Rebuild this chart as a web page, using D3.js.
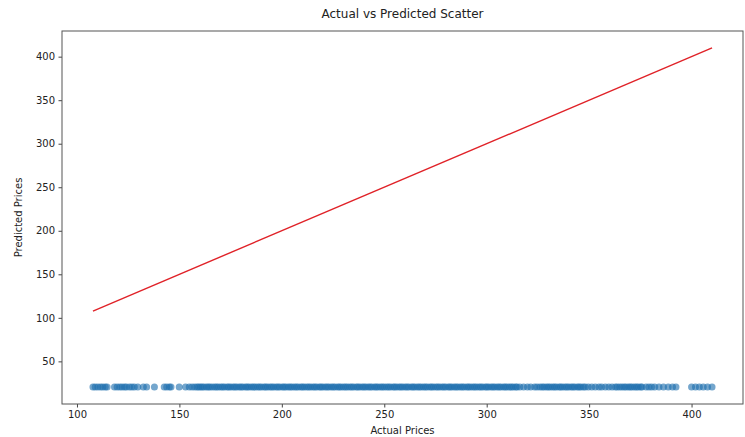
<!DOCTYPE html>
<html>
<head>
<meta charset="utf-8">
<script src="https://cdn.jsdelivr.net/npm/d3@7"></script>
<style>
  html, body { margin: 0; padding: 0; background: #fff; }
  svg { display: block; font-family: "DejaVu Sans", sans-serif; }
</style>
</head>
<body>
<svg id="chart" width="745" height="437"></svg>
<script>
// ---- data ----
const title = "Actual vs Predicted Scatter";
const xLabel = "Actual Prices";
const yLabel = "Predicted Prices";
const xTicks = [100, 150, 200, 250, 300, 350, 400];
const yTicks = [50, 100, 150, 200, 250, 300, 350, 400];

const actualLow = [107.8, 108.9, 110.2, 111.5, 112.6, 113.8, 114.7, 118.3, 119.6, 120.9, 122.0, 123.2,
  124.1, 125.6, 126.8, 128.0, 129.7, 132.4, 134.0, 137.8, 142.6, 143.8, 145.1, 145.9, 149.9, 153.0,
  154.8, 156.2, 157.5, 158.6, 159.4];
const actualMid = [160.3, 161.1, 162.0, 163.2, 164.1, 164.9, 166.0, 167.2, 168.1, 169.0, 170.2, 171.1,
  172.0, 173.3, 174.1, 175.0, 176.2, 177.1, 178.0, 179.2, 180.1, 181.0, 182.3, 183.1, 184.0, 185.2,
  186.1, 187.0, 188.2, 189.1, 190.0, 191.3, 192.1, 193.0, 194.2, 195.1, 196.0, 197.2, 198.1, 199.0,
  200.3, 201.1, 202.0, 203.2, 204.1, 205.0, 206.2, 207.1, 208.0, 209.3, 210.1, 211.0, 212.2, 213.1,
  214.0, 215.2, 216.1, 217.0, 218.3, 219.1, 220.0, 221.2, 222.1, 223.0, 224.2, 225.1, 226.0, 227.3,
  228.1, 229.0, 230.2, 231.1, 232.0, 233.2, 234.1, 235.0, 236.3, 237.1, 238.0, 239.2, 240.1, 241.0,
  242.2, 243.1, 244.0, 245.3, 246.1, 247.0, 248.2, 249.1, 250.0, 251.2, 252.1, 253.0, 254.3, 255.1,
  256.0, 257.2, 258.1, 259.0, 260.2, 261.1, 262.0, 263.3, 264.1, 265.0, 266.2, 267.1, 268.0, 269.2,
  270.1, 271.0, 272.3, 273.1, 274.0, 275.2, 276.1, 277.0, 278.2, 279.1, 280.0, 281.3, 282.1, 283.0,
  284.2, 285.1, 286.0, 287.2, 288.1, 289.0, 290.3, 291.1, 292.0, 293.2, 294.1, 295.0, 296.2, 297.1,
  298.0, 299.3, 300.1, 301.0, 302.2, 303.1, 304.0, 305.2, 306.1, 307.0, 308.3, 309.1, 310.0, 311.2,
  312.1, 313.0, 314.2, 314.8];
const actualHigh = [316.2, 318.0, 319.9, 321.5, 323.4, 324.6, 326.0,
  327.1, 328.0, 329.2, 330.1, 331.0, 332.2, 333.1, 334.0, 335.3, 336.1, 337.0, 338.2, 339.1, 340.0,
  341.2, 342.1, 343.0, 344.3, 345.1, 346.0, 347.2, 348.1,
  349.6, 351.3, 353.0, 354.8, 356.1, 357.9, 359.6, 361.2,
  362.8, 363.7, 364.9, 366.0, 367.1, 368.0, 369.2, 370.1, 371.0, 372.2, 373.1, 374.0, 375.2, 375.8,
  377.8, 379.2, 380.5, 382.0, 384.1, 386.3, 388.6, 390.7, 392.4,
  400.0, 401.9, 403.8, 405.7, 407.8, 410.0];
const predictedValue = 20.5;

const actual = actualLow.concat(actualMid, actualHigh);
const points = actual.map(a => ({ actual: a, predicted: predictedValue }));

// ---- layout ----
const W = 745, H = 437;
const margin = { top: 31, right: 2, bottom: 33, left: 62 };
const iw = W - margin.left - margin.right;
const ih = H - margin.top - margin.bottom;

const svg = d3.select("#chart");
const g = svg.append("g").attr("transform", `translate(${margin.left},${margin.top})`);

const xMin = d3.min(actual), xMax = d3.max(actual);
const xPad = (xMax - xMin) * 0.05;
const x = d3.scaleLinear().domain([xMin - xPad, xMax + xPad]).range([0, iw]);

const yLo = Math.min(predictedValue, xMin), yHi = Math.max(predictedValue, xMax);
const yPad = (yHi - yLo) * 0.05;
const y = d3.scaleLinear().domain([yLo - yPad, yHi + yPad]).range([ih, 0]);

// scatter
g.append("g").selectAll("circle").data(points).join("circle")
  .attr("cx", d => x(d.actual))
  .attr("cy", d => y(d.predicted))
  .attr("r", 3.5)
  .attr("fill", "#1f6fae")
  .attr("fill-opacity", 0.62);

// identity line
g.append("line")
  .attr("x1", x(xMin)).attr("y1", y(xMin))
  .attr("x2", x(xMax)).attr("y2", y(xMax))
  .attr("stroke", "#e02228").attr("stroke-width", 1.4);

// axes
const xAxis = g.append("g").attr("transform", `translate(0,${ih})`)
  .call(d3.axisBottom(x).tickValues(xTicks).tickSize(3.5).tickPadding(3.5).tickFormat(d3.format("d")));
const yAxis = g.append("g")
  .call(d3.axisLeft(y).tickValues(yTicks).tickSize(3.5).tickPadding(3.5).tickFormat(d3.format("d")));
[xAxis, yAxis].forEach(a => {
  a.select(".domain").remove();
  a.selectAll("line").attr("stroke", "#444");
  a.selectAll("text").attr("fill", "#222").style("font-size", "10px").style("font-family", "DejaVu Sans, sans-serif");
});

// frame
g.append("rect").attr("x", 0).attr("y", 0).attr("width", iw).attr("height", ih)
  .attr("fill", "none").attr("stroke", "#555").attr("stroke-width", 1);

// titles
svg.append("text").attr("x", margin.left + iw / 2).attr("y", 18)
  .attr("text-anchor", "middle").attr("fill", "#222").style("font-size", "12px").text(title);
svg.append("text").attr("x", margin.left + iw / 2).attr("y", 434)
  .attr("text-anchor", "middle").attr("fill", "#222").style("font-size", "10px").text(xLabel);
svg.append("text").attr("transform", `translate(22,${margin.top + ih / 2}) rotate(-90)`)
  .attr("text-anchor", "middle").attr("fill", "#222").style("font-size", "10px").text(yLabel);
</script>
</body>
</html>
